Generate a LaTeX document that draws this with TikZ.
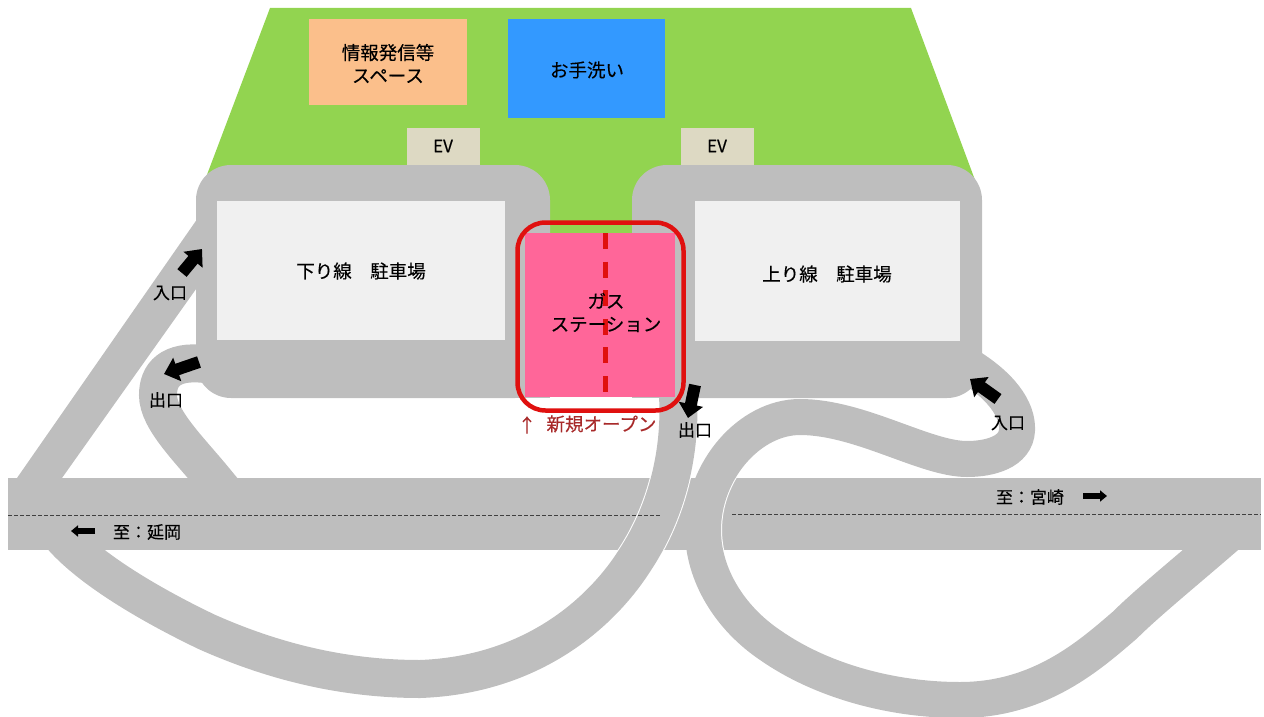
\documentclass[tikz,border=0pt]{standalone}
\usepackage{fontspec}
\setmainfont{Noto Sans CJK JP}[FakeBold=0.25]
\usetikzlibrary{arrows.meta}
\definecolor{road}{HTML}{BEBEBE}
\definecolor{lawn}{HTML}{92D450}
\definecolor{lot}{HTML}{F0F0F0}
\definecolor{orangebox}{HTML}{FBBF8B}
\definecolor{bluebox}{HTML}{3399FF}
\definecolor{evbox}{HTML}{DDD9C3}
\definecolor{pinkbox}{HTML}{FF6699}
\definecolor{redline}{HTML}{E0100F}
\definecolor{redtext}{HTML}{A82A2A}
\tikzset{
 x=1pt,y=-1pt,
 bigarrow/.style={line width=12pt,-{Triangle[length=14pt,width=24pt]},black},
 smallarrow/.style={line width=5.5pt,-{Triangle[length=7pt,width=11pt]},black},
 label/.style={inner sep=0pt,font=\fontsize{17}{19}\selectfont,text=black},
 big/.style={inner sep=0pt,font=\fontsize{18.5}{23}\selectfont,text=black,align=center},
 centerline/.style={draw=black!75,line width=0.9pt,dash pattern=on 4pt off 2pt},
 box/.style={inner sep=0pt,anchor=north west},
}
\newcommand{\roadA}{(678,396) .. controls (681,450) and (668,510) .. (635,560) .. controls (600,615) and (530,675) .. (420,679) .. controls (340,679) and (270,660) .. (207,632) .. controls (165,612) and (90,572) .. (58,532)}
\newcommand{\roadB}{(962,362) .. controls (1002,385) and (1018,410) .. (1017,430) .. controls (1016,452) and (990,459) .. (967,459) .. controls (925,459) and (860,417) .. (800,417) .. controls (750,417) and (703,470) .. (703,530) .. controls (703,575) and (730,618) .. (770,645) .. controls (820,680) and (890,700) .. (960,700) .. controls (1040,700) and (1090,655) .. (1125,625) .. controls (1150,600) and (1200,560) .. (1245,520)}
\begin{document}
\begin{tikzpicture}
\useasboundingbox (0,0) rectangle (1264,717);
% lawn
\fill[lawn] (270,8) -- (911,8) -- (975,180) -- (950,200) -- (632,200) -- (632,240) -- (550,240) -- (550,200) -- (230,200) -- (205,180) -- cycle;
% upper boxes
\node[box,fill=orangebox,minimum width=158pt,minimum height=86pt] (info) at (309,19) {};
\node[box,fill=bluebox,minimum width=157pt,minimum height=99pt] (wash) at (508,19) {};
\node[box,fill=evbox,minimum width=73pt,minimum height=37pt] (evl) at (407,128) {};
\node[box,fill=evbox,minimum width=73pt,minimum height=37pt] (evr) at (681,128) {};
% highway
\fill[road] (8,478) rectangle (1261,550);
% left entry
\fill[road] (17,478) -- (200,215) -- (206,275) -- (62,478) -- cycle;
% left exit
\draw[road,line width=38pt] (205,364) .. controls (170,360) and (158,375) .. (158,395) .. controls (158,420) and (190,450) .. (216,482) -- (235,505);
% roads crossing the highway
\begin{scope}
\clip (703,478) rectangle (760,550);
\draw[white,line width=38pt] \roadB;
\end{scope}
\draw[road,line width=36pt] \roadB;
\begin{scope}
\clip (600,478) rectangle (700,550);
\draw[white,line width=40pt] \roadA;
\end{scope}
\draw[road,line width=38pt] \roadA;
% centre lines
\draw[centerline] (8,515.7) -- (661,515.7);
\draw[centerline] (732,514) -- (1261,514);
% parking lots
\fill[road,rounded corners=35pt] (196,165) rectangle (550,398);
\fill[road] (500,233) rectangle (550,398);
\fill[road,rounded corners=35pt] (632,165) rectangle (982,398);
\fill[road] (632,233) rectangle (700,398);
\node[box,fill=lot,minimum width=288pt,minimum height=139pt] (lotl) at (217,201) {};
\node[box,fill=lot,minimum width=265pt,minimum height=140pt] (lotr) at (695,201) {};
% gas station
\node[box,fill=pinkbox,minimum width=150pt,minimum height=164pt] (gas) at (525,233) {};
\draw[redline,line width=5pt,dash pattern=on 16pt off 12.6pt] (605.7,233) -- (605.7,392);
\draw[redline,line width=4.5pt,rounded corners=28pt] (517.5,222.5) rectangle (683.5,410.5);
% arrows
\draw[bigarrow] (182,273) -- (202,249);
\draw[bigarrow] (199,362) -- (164,374);
\draw[bigarrow] (695,385) -- (688,418);
\draw[bigarrow] (998,399) -- (970,379);
\draw[smallarrow] (95,531) -- (71,531);
\draw[smallarrow] (1083,496) -- (1107,496);
% labels
\node[big] at (388,63.5) {情報発信等\\スペース};
\node[big] at (587,70) {お手洗い};
\node[label] at (443,146) {EV};
\node[label] at (717,146) {EV};
\node[big] at (361,271) {下り線\hspace{1em}駐車場};
\node[big] at (827,274) {上り線\hspace{1em}駐車場};
\node[big] at (606,312.5) {ガス\\ステーション};
\node[label] at (170,293) {入口};
\node[label] at (166,400) {出口};
\node[label] at (695,430) {出口};
\node[label] at (1008,423) {入口};
\node[label] at (147,532) {至：延岡};
\node[label] at (1030,497) {至：宮崎};
\node[big,text=redtext] at (527,425) {↑};
\node[big,text=redtext] at (601.5,424) {新規オープン};
\end{tikzpicture}
\end{document}
